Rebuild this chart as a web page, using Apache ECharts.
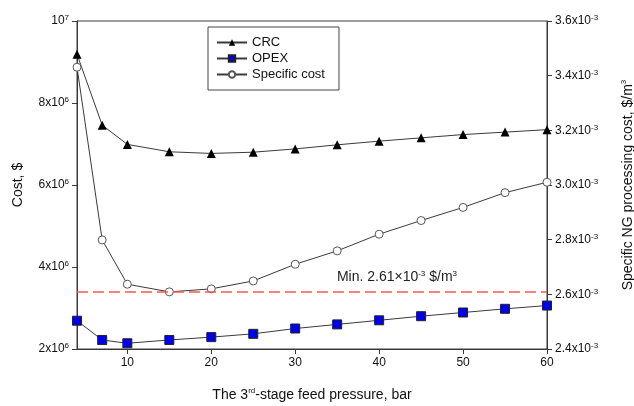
<!DOCTYPE html>
<html>
<head>
<meta charset="utf-8">
<style>
 html, body { margin: 0; padding: 0; background: #fff; }
 #chart { width: 634px; height: 406px; }
</style>
</head>
<body>
<div id="chart"></div>
<script src="https://cdn.jsdelivr.net/npm/echarts@6/dist/echarts.min.js"></script>
<script type="text/javascript">
	// 3rd-stage feed pressure, bar
	var pressure = [4, 7, 10, 15, 20, 25, 30, 35, 40, 45, 50, 55, 60];
	// costs, $
	var crc  = [9.19e6, 7.46e6, 6.99e6, 6.81e6, 6.77e6, 6.80e6, 6.88e6, 6.98e6, 7.07e6, 7.15e6, 7.23e6, 7.29e6, 7.35e6];
	var opex = [2.69e6, 2.22e6, 2.14e6, 2.22e6, 2.29e6, 2.37e6, 2.50e6, 2.60e6, 2.70e6, 2.80e6, 2.89e6, 2.98e6, 3.06e6];
	// specific NG processing cost, $/m3
	var specific = [3.431e-3, 2.799e-3, 2.637e-3, 2.609e-3, 2.620e-3, 2.649e-3, 2.710e-3, 2.759e-3, 2.820e-3, 2.870e-3, 2.918e-3, 2.972e-3, 3.010e-3];
	var minCost = 2.61e-3;
	var xTicks = [10, 20, 30, 40, 50, 60];

	function pairs(ys) {
		return pressure.map(function (x, i) { return [x, ys[i]]; });
	}

	var font = 'Liberation Sans, Arial, sans-serif';
	var sup = { fontSize: 8, verticalAlign: 'top', lineHeight: 8, fontFamily: font, color: '#111' };
	var lineColor = '#3a3a3a';

	var options = {
		animation: false,
		textStyle: { fontFamily: font },
		grid: {
			left: 77, right: 87, top: 21, bottom: 57,
			outerBoundsMode: 'none', containLabel: false,
			show: true, borderColor: lineColor, borderWidth: 1
		},
		legend: {
			orient: 'vertical',
			left: 208, top: 27,
			padding: [9, 14, 9, 8],
			itemWidth: 30, itemHeight: 8, itemGap: 3,
			borderColor: '#444', borderWidth: 1,
			textStyle: { fontSize: 13, color: '#111', fontFamily: font },
			data: ['CRC', 'OPEX', 'Specific cost']
		},
		xAxis: {
			type: 'value', min: 4, max: 60,
			name: 'The 3{s|rd}-stage feed pressure, bar',
			nameLocation: 'middle', nameGap: 38,
			nameTextStyle: { fontSize: 14, color: '#111', lineHeight: 16, rich: { s: sup } },
			axisLine: { lineStyle: { color: lineColor } },
			axisTick: { inside: false, length: 5, customValues: xTicks, lineStyle: { color: lineColor } },
			axisLabel: { customValues: xTicks, fontSize: 12, color: '#111', margin: 8 },
			splitLine: { show: false }
		},
		yAxis: [
			{
				type: 'value', min: 2e6, max: 1e7, interval: 2e6,
				name: 'Cost, $', nameLocation: 'middle', nameGap: 52, nameRotate: 90,
				nameTextStyle: { fontSize: 14, color: '#111' },
				axisLine: { show: true, lineStyle: { color: lineColor } },
				axisTick: { show: true, length: 5, lineStyle: { color: lineColor } },
				axisLabel: {
					fontSize: 12, color: '#111', margin: 8, lineHeight: 14,
					formatter: function (v) {
						if (v >= 1e7) return '10{s|7}';
						return (v / 1e6) + 'x10{s|6}';
					},
					rich: { s: sup }
				},
				splitLine: { show: false }
			},
			{
				type: 'value', min: 2.4e-3, max: 3.6e-3, interval: 0.2e-3,
				position: 'right',
				name: 'Specific NG processing cost, $/m{s|3}', nameLocation: 'middle', nameGap: 73, nameRotate: 90,
				nameTextStyle: { fontSize: 14, color: '#111', lineHeight: 16, rich: { s: sup } },
				axisLine: { show: true, lineStyle: { color: lineColor } },
				axisTick: { show: true, length: 5, lineStyle: { color: lineColor } },
				axisLabel: {
					fontSize: 12, color: '#111', margin: 8, lineHeight: 14,
					formatter: function (v) {
						return (v * 1000).toFixed(1) + 'x10{s|-3}';
					},
					rich: { s: sup }
				},
				splitLine: { show: false }
			}
		],
		series: [
			{
				name: 'CRC', type: 'line', yAxisIndex: 0,
				data: pairs(crc),
				symbol: 'triangle', symbolSize: 9,
				itemStyle: { color: '#000' },
				lineStyle: { color: lineColor, width: 1 },
				z: 3
			},
			{
				name: 'OPEX', type: 'line', yAxisIndex: 0,
				data: pairs(opex),
				symbol: 'rect', symbolSize: 9,
				itemStyle: { color: '#0000ee', borderColor: '#222', borderWidth: 1 },
				lineStyle: { color: lineColor, width: 1 },
				z: 3
			},
			{
				name: 'Specific cost', type: 'line', yAxisIndex: 1,
				data: pairs(specific),
				symbol: 'circle', symbolSize: 8,
				itemStyle: { color: '#fff', borderColor: '#555', borderWidth: 1 },
				lineStyle: { color: lineColor, width: 1 },
				z: 3,
				markLine: {
					silent: true, symbol: ['none', 'none'],
					lineStyle: { color: '#ff5555', type: [11, 5], width: 1.5 },
					label: {
						show: true, position: 'insideEndTop', distance: 6,
						padding: [0, 84, 0, 0],
						fontSize: 14, color: '#222', fontFamily: font, lineHeight: 16,
						formatter: 'Min. 2.61×10{s|-3} $/m{s|3}',
						rich: { s: sup }
					},
					data: [[
						{ coord: [pressure[0], minCost] },
						{ coord: [pressure[pressure.length - 1], minCost] }
					]]
				}
			}
		]
	};

	var myChart = echarts.init(document.getElementById('chart'));
	myChart.setOption(options);
</script>
</body>
</html>
